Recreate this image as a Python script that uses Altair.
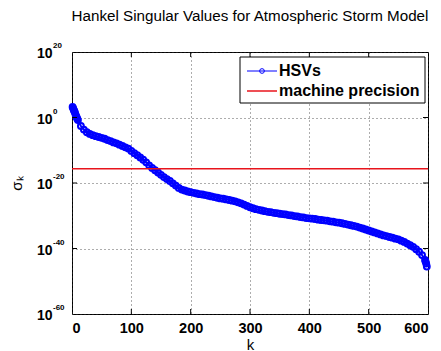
import altair as alt
import pandas as pd

# ---- data ----
k_vals = [1, 2, 3, 4, 5, 6, 7, 8, 9, 10,
          15, 20, 25, 30, 35, 40, 45, 50, 55, 60, 65, 70, 75, 80, 85, 90, 95, 100,
          105, 110, 115, 120, 125, 130, 135, 140, 145, 150, 155, 160, 165, 170, 175, 180,
          185, 190, 195, 200, 205, 210, 215, 220, 225, 230, 235, 240, 245, 250, 255, 260,
          265, 270, 275, 280, 285, 290, 295, 300, 305, 310, 315, 320, 325, 330, 335, 340,
          345, 350, 355, 360, 365, 370, 375, 380, 385, 390, 395, 400, 405, 410, 415, 420,
          425, 430, 435, 440, 445, 450, 455, 460, 465, 470, 475, 480, 485, 490, 495, 500,
          505, 510, 515, 520, 525, 530, 535, 540, 545, 550, 555, 560, 565, 570, 575, 580,
          585, 590, 595, 596, 597, 598]
log10_sigma = [3.2, 2.8, 2.3, 1.9, 1.5, 0.9, 0.4, 0.0, -0.4, -0.8,
               -2.6, -3.7, -4.5, -5.0, -5.4, -5.7, -5.95, -6.2, -6.5, -6.9, -7.2, -7.6, -7.9, -8.3,
               -8.7, -9.1, -9.5, -10.2,
               -10.9, -11.5, -12.2, -12.9, -13.7, -14.6, -15.4, -16.1, -16.8, -17.5, -18.2, -18.8,
               -19.4, -20.1, -20.8, -21.5,
               -22.0, -22.3, -22.6, -22.8, -23.0, -23.2, -23.4, -23.5, -23.7, -23.9, -24.1, -24.3,
               -24.5, -24.7, -24.8, -25.0,
               -25.2, -25.4, -25.6, -25.9, -26.2, -26.6, -27.0, -27.4, -27.7, -28.0, -28.2, -28.4,
               -28.6, -28.8, -28.9, -29.1,
               -29.2, -29.4, -29.5, -29.6, -29.8, -29.9, -30.1, -30.2, -30.4, -30.5, -30.7, -30.8,
               -30.9, -31.0, -31.2, -31.3,
               -31.4, -31.5, -31.7, -31.8, -32.0, -32.1, -32.3, -32.5, -32.7, -32.9, -33.1, -33.3,
               -33.6, -33.9, -34.2, -34.5,
               -34.8, -35.1, -35.4, -35.7, -36.0, -36.2, -36.5, -36.7, -37.0, -37.2, -37.6, -38.0,
               -38.5, -39.0, -39.5, -40.2,
               -41.0, -42.0, -43.5, -44.0, -44.6, -45.5]
machine_eps = 2.220446e-16
x_ticks = [0, 100, 200, 300, 400, 500, 600]
x_inner_ticks = [100, 200, 300, 400, 500]
y_exps = [20, 0, -20, -40, -60]
y_inner_exps = [0, -20, -40]
title_text = "Hankel Singular Values for Atmospheric Storm Model"
legend_labels = ["HSVs", "machine precision"]
series_colors = ["#0000ff", "#e8141c"]

FONT = "Liberation Sans"
W, H = 356, 262

hsv = pd.DataFrame({"k": k_vals, "sigma": [10.0 ** v for v in log10_sigma]})
eps_df = pd.DataFrame({"sigma": [machine_eps]})
exp_df = pd.DataFrame({"sigma": [10.0 ** e for e in y_exps], "lab": [str(e) for e in y_exps]})
xt_df = pd.DataFrame({"k": x_inner_ticks})
yt_df = pd.DataFrame({"sigma": [10.0 ** e for e in y_inner_exps]})

xscale = alt.Scale(domain=[0, 600], nice=False, zero=False)
yscale = alt.Scale(type="log", domain=[1e-60, 1e20], nice=False)

xaxis = alt.Axis(values=x_ticks, title="k", labelFont=FONT, labelFontSize=14.5,
                 labelFontWeight="bold", labelColor="black", labelPadding=7,
                 ticks=False, domain=False, grid=True, gridDash=[1, 3],
                 gridColor="#333333", gridOpacity=0.8,
                 titleFont=FONT, titleFontSize=15, titleFontWeight="normal",
                 titleColor="black", titleY=35, titleBaseline="alphabetic")
yaxis = alt.Axis(values=[10.0 ** e for e in y_exps], labelExpr="'10'", title="σₖ",
                 labelFont=FONT, labelFontSize=14, labelFontWeight="bold",
                 labelColor="black", labelPadding=20, labelBaseline="middle",
                 labelOffset=1.5,
                 ticks=False, domain=False, grid=True, gridDash=[1, 3],
                 gridColor="#333333", gridOpacity=0.8,
                 titleFont=FONT, titleFontSize=15, titleFontWeight="normal",
                 titleColor="black", titleX=-51, titleBaseline="alphabetic")

X = alt.X("k:Q", scale=xscale, axis=xaxis)
Y = alt.Y("sigma:Q", scale=yscale, axis=yaxis)

line = alt.Chart(hsv).mark_line(color=series_colors[0], strokeWidth=2).encode(x=X, y=Y)
pts = alt.Chart(hsv).mark_point(shape="circle", filled=False, size=34,
                                color=series_colors[0], strokeWidth=2, opacity=1).encode(x=X, y=Y)
eps_rule = alt.Chart(eps_df).mark_rule(color=series_colors[1], strokeWidth=1.5).encode(y=Y)
exps = alt.Chart(exp_df).mark_text(font=FONT, fontSize=8, fontWeight="bold", color="black",
                                   align="left", baseline="alphabetic", dy=-4).encode(
    y=Y, x=alt.value(-19), text="lab:N")
xt_bot = alt.Chart(xt_df).mark_rule(color="black", strokeWidth=1).encode(
    x=X, y=alt.value(H), y2=alt.value(H - 5))
xt_top = alt.Chart(xt_df).mark_rule(color="black", strokeWidth=1).encode(
    x=X, y=alt.value(0), y2=alt.value(5))
yt_l = alt.Chart(yt_df).mark_rule(color="black", strokeWidth=1).encode(
    y=Y, x=alt.value(0), x2=alt.value(5))
yt_r = alt.Chart(yt_df).mark_rule(color="black", strokeWidth=1).encode(
    y=Y, x=alt.value(W), x2=alt.value(W - 5))

# legend box
one = pd.DataFrame({"label": [legend_labels[0]]})
two = pd.DataFrame({"label": [legend_labels[1]]})
leg_box = alt.Chart(one).mark_rect(fill="white", stroke="black", strokeWidth=1).encode(
    x=alt.value(168), x2=alt.value(353), y=alt.value(5), y2=alt.value(51))
leg_l1 = alt.Chart(one).mark_rule(color=series_colors[0], strokeWidth=1).encode(
    x=alt.value(175), x2=alt.value(205), y=alt.value(19))
leg_p1 = alt.Chart(one).mark_point(shape="circle", filled=False, size=22,
                                   color=series_colors[0], strokeWidth=1, opacity=1).encode(
    x=alt.value(190), y=alt.value(19))
leg_t1 = alt.Chart(one).mark_text(font=FONT, fontSize=16, fontWeight="bold", color="black",
                                  align="left", baseline="middle").encode(
    x=alt.value(207), y=alt.value(19), text="label:N")
leg_l2 = alt.Chart(two).mark_rule(color=series_colors[1], strokeWidth=1.5).encode(
    x=alt.value(175), x2=alt.value(205), y=alt.value(39))
leg_t2 = alt.Chart(two).mark_text(font=FONT, fontSize=16, fontWeight="bold", color="black",
                                  align="left", baseline="middle").encode(
    x=alt.value(207), y=alt.value(39), text="label:N")

chart = alt.layer(
    line, pts, eps_rule, exps, xt_bot, xt_top, yt_l, yt_r,
    leg_box, leg_l1, leg_p1, leg_t1, leg_l2, leg_t2,
).properties(
    width=W, height=H,
    title=alt.Title(title_text, font=FONT, fontSize=15.2, fontWeight="normal",
                    color="black", anchor="middle", offset=18),
    autosize=alt.AutoSizeParams(type="none"),
    padding={"left": 64, "top": 44, "right": 5, "bottom": 37},
    background="white",
).configure_view(stroke="black", strokeWidth=1)

chart.save("out.html", embed_options={"renderer": "svg", "actions": False})
